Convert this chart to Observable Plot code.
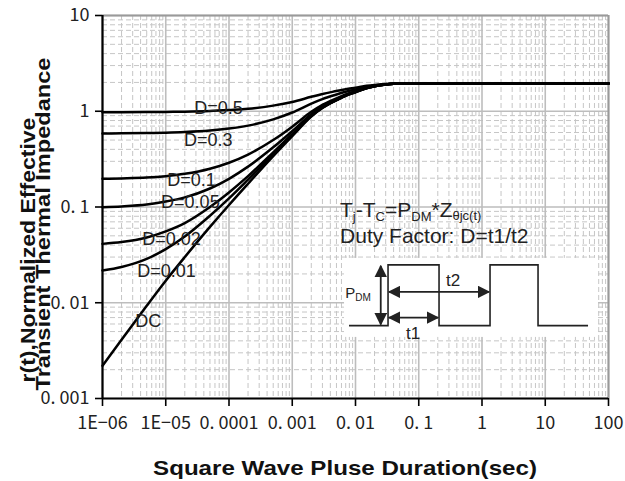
<!DOCTYPE html>
<html><head><meta charset="utf-8">
<script src="https://cdn.jsdelivr.net/npm/d3@7"></script>
<script src="https://cdn.jsdelivr.net/npm/@observablehq/plot@0.6"></script>
<style>
body{margin:0;background:#fff;}
#chart svg{display:block;}
g[aria-label="x-axis tick label"] text, g[aria-label="y-axis tick label"] text{font-family:"Noto Sans CJK JP",sans-serif;font-size:18px;fill:#222;}
</style></head><body><div id="chart"></div>
<script>
// Pulse duration (sec)
const pulseWidth = [1e-6,2e-6,5e-6,1e-5,2e-5,5e-5,1e-4,2e-4,5e-4,1e-3,2e-3,3e-3,5e-3,7e-3,1e-2,1.5e-2,2e-2,3e-2,5e-2,0.1,1,10,100];
const seriesNames = ["D=0.5","D=0.3","D=0.1","D=0.05","D=0.02","D=0.01","DC"];
const d05 = [0.976,0.977,0.980,0.984,0.990,1.006,1.03,1.06,1.145,1.25,1.415,1.515,1.625,1.70,1.765,1.845,1.885,1.925,1.95,1.95,1.95,1.95,1.95];
const d03 = [0.587,0.588,0.592,0.597,0.606,0.628,0.659,0.708,0.823,0.97,1.20,1.34,1.495,1.60,1.69,1.80,1.86,1.915,1.95,1.95,1.95,1.95,1.95];
const d01 = [0.197,0.199,0.203,0.210,0.222,0.251,0.290,0.353,0.50,0.69,0.987,1.167,1.365,1.50,1.617,1.761,1.833,1.905,1.95,1.95,1.95,1.95,1.95];
const d005 = [0.0996,0.1014,0.106,0.114,0.126,0.156,0.197,0.264,0.42,0.62,0.93,1.124,1.33,1.475,1.598,1.75,1.826,1.90,1.95,1.95,1.95,1.95,1.95];
const d002 = [0.0412,0.043,0.048,0.0557,0.068,0.100,0.142,0.21,0.372,0.578,0.901,1.097,1.313,1.46,1.587,1.744,1.822,1.901,1.95,1.95,1.95,1.95,1.95];
const d001 = [0.0217,0.0236,0.0287,0.0363,0.0492,0.081,0.123,0.193,0.356,0.564,0.891,1.089,1.307,1.455,1.584,1.742,1.821,1.90,1.95,1.95,1.95,1.95,1.95];
const dc = [0.0022,0.0041,0.0093,0.017,0.030,0.062,0.105,0.175,0.34,0.55,0.88,1.08,1.30,1.45,1.58,1.74,1.82,1.90,1.95,1.95,1.95,1.95,1.95];
const seriesValues = [d05,d03,d01,d005,d002,d001,dc];

// Curve label anchors (data units)
const labelX = [6.8e-5,4.7e-5,2.55e-5,2.45e-5,1.23e-5,1.03e-5,5.3e-6];
const labelY = [1.075,0.498,0.192,0.111,0.046,0.0213,0.0064];

const xTickValues = [1e-6,1e-5,1e-4,1e-3,1e-2,0.1,1,10,100];
const xTickLabels = ["1E\u221206","1E\u221205","0. 0001","0. 001","0. 01","0. 1","1","10","100"];
const yTickValues = [0.001,0.01,0.1,1,10];
const yTickLabels = ["0. 001","0. 01","0. 1","1","10"];

// annotation anchor (data units)
const annoX = 0.0058, annoY = 0.076;

const rows = seriesNames.flatMap((name,i)=>pulseWidth.map((x,j)=>({name,x,y:seriesValues[i][j]})));
const labels = seriesNames.map((name,i)=>({name,x:labelX[i],y:labelY[i]}));

const xMinor = [], yMinor = [];
for (let k=-6;k<2;k++) for (let m=2;m<10;m++) xMinor.push(m*Math.pow(10,k));
for (let k=-3;k<1;k++) for (let m=2;m<10;m++) yMinor.push(m*Math.pow(10,k));

const plot = Plot.plot({
  width:625, height:481,
  marginLeft:102, marginRight:17, marginTop:15, marginBottom:83,
  x:{type:"log", domain:[1e-6,100]},
  y:{type:"log", domain:[0.001,10]},
  style:{fontFamily:"'Noto Sans CJK JP', sans-serif", fontSize:"18px", background:"#fff", overflow:"visible"},
  marks:[
    Plot.gridX({ticks:xMinor, stroke:"#c6c6c6", strokeOpacity:1, strokeWidth:1, strokeDasharray:"5,3"}),
    Plot.gridY({ticks:yMinor, stroke:"#c6c6c6", strokeOpacity:1, strokeWidth:1, strokeDasharray:"5,3"}),
    Plot.gridX({ticks:xTickValues, stroke:"#bdbdbd", strokeOpacity:1, strokeWidth:1.6}),
    Plot.gridY({ticks:yTickValues, stroke:"#bdbdbd", strokeOpacity:1, strokeWidth:1.6}),
    Plot.ruleY([10], {stroke:"#9a9a9a", strokeWidth:2}),
    Plot.ruleX([100], {stroke:"#9a9a9a", strokeWidth:2}),
    Plot.lineY(rows, {x:"x", y:"y", z:"name", stroke:"#000", strokeWidth:2.5, curve:"monotone-x"}),
    Plot.text(labels, {x:"x", y:"y", text:"name", fontSize:18, fill:"#222", fontFamily:"'Liberation Sans', Arial, sans-serif"}),
    Plot.ruleX([1e-6], {stroke:"#000", strokeWidth:2.2}),
    Plot.ruleY([0.001], {stroke:"#000", strokeWidth:2.2}),
    Plot.axisX({ticks:xTickValues, tickFormat:d=>xTickLabels[xTickValues.indexOf(d)], tickSize:8, tickPadding:10, stroke:"#000", strokeWidth:1.6, label:null}),
    Plot.axisY({ticks:yTickValues, tickFormat:d=>yTickLabels[yTickValues.indexOf(d)], tickSize:7, tickPadding:6, stroke:"#000", strokeWidth:1.6, label:null})
  ]
});
document.getElementById("chart").appendChild(plot);

const svg = d3.select(plot);
const bold = "'Liberation Sans', Arial, sans-serif";
// axis titles: stretched along their reading direction to the reference lengths
const titles = svg.append("g").attr("font-family",bold).attr("font-weight","bold").attr("fill","#111").attr("text-anchor","middle");
function title(txt, cx, cy, rot, len, size){
  const t = titles.append("text").attr("font-size",size).attr("x",0).attr("y",0).text(txt);
  const w = t.node().getComputedTextLength();
  t.attr("transform",`translate(${cx},${cy}) rotate(${rot}) scale(${len/w},1)`);
}
title("Square Wave Pluse Duration(sec)", 345, 475, 0, 384, 20);
title("r(t),Normalized Effective", 35, 250, -90, 265, 20);
title("Transient Thermal Impedance", 50, 224, -90, 333, 20);

// annotation
const ax = plot.scale("x").apply(annoX), ay = plot.scale("y").apply(annoY);
const g = svg.append("g").attr("transform",`translate(${ax},${ay})`).attr("font-family",bold).attr("fill","#222").attr("text-anchor","start");
const t1 = g.append("text").attr("x",0).attr("y",-1).attr("font-size",21);
t1.append("tspan").text("T");
t1.append("tspan").attr("font-size",13).attr("dy",4).text("j");
t1.append("tspan").attr("dy",-4).text("-T");
t1.append("tspan").attr("font-size",13).attr("dy",4).text("C");
t1.append("tspan").attr("dy",-4).text("=P");
t1.append("tspan").attr("font-size",13).attr("dy",4).text("DM");
t1.append("tspan").attr("dy",-4).text("*Z");
t1.append("tspan").attr("font-size",13).attr("dy",3).text("\u03b8jc(t)");
g.append("text").attr("x",0).attr("y",25).attr("font-size",21).text("Duty Factor: D=t1/t2");

// waveform box
g.append("rect").attr("x",4).attr("y",40).attr("width",254).attr("height",79).attr("fill","#fff");
const low = 107.7, high = 47;
g.append("path").attr("fill","none").attr("stroke","#222").attr("stroke-width",1.6)
  .attr("d",`M9,${low}H48V${high}H99V${low}H150V${high}H198V${low}H248`);
const defs = svg.append("defs");
defs.append("marker").attr("id","ah").attr("viewBox","0 0 10 10").attr("refX",9).attr("refY",5)
  .attr("markerWidth",7).attr("markerHeight",7).attr("orient","auto-start-reverse")
  .append("path").attr("d","M0,0L10,5L0,10z").attr("fill","#222");
const arrow = (x1,y1,x2,y2)=>g.append("line").attr("x1",x1).attr("y1",y1).attr("x2",x2).attr("y2",y2)
  .attr("stroke","#222").attr("stroke-width",1.8).attr("marker-start","url(#ah)").attr("marker-end","url(#ah)");
arrow(40.7,48,40.7,106.5);
arrow(49,74,149,74);
arrow(49,99.7,98,99.7);
g.append("text").attr("x",113).attr("y",68).attr("text-anchor","middle").attr("font-size",17).text("t2");
g.append("text").attr("x",73).attr("y",121).attr("text-anchor","middle").attr("font-size",17).text("t1");
const pdm = g.append("text").attr("x",18).attr("y",80).attr("text-anchor","middle").attr("font-size",15);
pdm.append("tspan").text("P");
pdm.append("tspan").attr("font-size",10).attr("dy",3).text("DM");
</script></body></html>
